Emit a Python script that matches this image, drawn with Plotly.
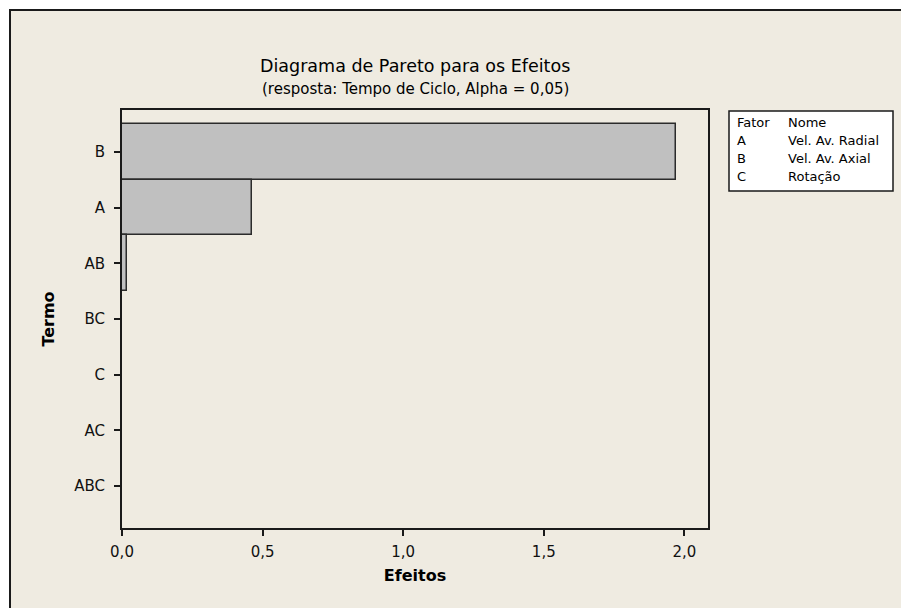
import plotly.graph_objects as go

# Standardized effects (absolute) per term, in Pareto order
terms = ["B", "A", "AB", "BC", "C", "AC", "ABC"]
effects = [1.97, 0.463, 0.016, 0.0, 0.0, 0.0, 0.0]

# Factor key
factor_codes = ["A", "B", "C"]
factor_names = ["Vel. Av. Radial", "Vel. Av. Axial", "Rotação"]

x_ticks = [0.0, 0.5, 1.0, 1.5, 2.0]

W, H = 901, 608
L, R, T, B = 122, 708, 110, 528
pw, ph = R - L, B - T

def px(x):
    return (x - L) / pw

def py(y):
    return (B - y) / ph

FONT = "DejaVu Sans"
BEIGE = "#EFEBE1"
INK = "#1a1a1a"

fig = go.Figure()
fig.add_trace(go.Bar(
    x=effects, y=terms, orientation="h",
    marker=dict(color="#C0C0C0", line=dict(color="#2b2b2b", width=1.5)),
    width=1.0, hoverinfo="x+y",
))

shapes = [
    # outer panel with border
    dict(type="rect", xref="paper", yref="paper",
         x0=px(10), x1=px(W + 20), y0=py(H + 20), y1=py(10),
         fillcolor=BEIGE, line=dict(color=INK, width=2), layer="below"),
    # legend box
    dict(type="rect", xref="paper", yref="paper",
         x0=px(729), x1=px(893), y0=py(191), y1=py(111),
         fillcolor="white", line=dict(color=INK, width=1.5)),
]

def label(text, x, y, size, xanchor="center"):
    return dict(text=text, x=px(x), y=py(y), xref="paper", yref="paper",
                xanchor=xanchor, yanchor="middle", showarrow=False,
                font=dict(family=FONT, size=size, color="black"))

annotations = [
    label("Diagrama de Pareto para os Efeitos", 415, 66, 17.5),
    label("(resposta: Tempo de Ciclo, Alpha = 0,05)", 415, 89, 15),
    label("Fator", 735, 122, 13, "left"),
    label("Nome", 786, 122, 13, "left"),
]
for i, (c, n) in enumerate(zip(factor_codes, factor_names)):
    yy = 140 + 18 * i
    annotations.append(label(c, 735, yy, 13, "left"))
    annotations.append(label(n, 786, yy, 13, "left"))

axis_common = dict(ticks="outside", ticklen=6, tickcolor=INK, tickwidth=1.5,
                   showgrid=False, zeroline=False, showline=True, linecolor=INK,
                   linewidth=2, mirror=True,
                   tickfont=dict(family=FONT, size=15, color="#111"))

fig.update_layout(
    width=W, height=H,
    margin=dict(l=L, r=W - R, t=T, b=H - B, pad=0),
    paper_bgcolor="white", plot_bgcolor="white",
    separators=",.",
    showlegend=False,
    bargap=0,
    shapes=shapes, annotations=annotations,
    xaxis=dict(range=[0, 2.084], tickvals=x_ticks, tickformat=".1f",
               ticklabelstandoff=3,
               title=dict(text="<b>Efeitos</b>", standoff=10,
                          font=dict(family=FONT, size=16, color="black")),
               **axis_common),
    yaxis=dict(categoryorder="array", categoryarray=terms, autorange=False,
               range=[6.75, -0.75], ticklabelstandoff=6,
               title=dict(text="<b>Termo</b>", standoff=16,
                          font=dict(family=FONT, size=16, color="black")),
               **axis_common),
)

fig.write_html("out.html")
